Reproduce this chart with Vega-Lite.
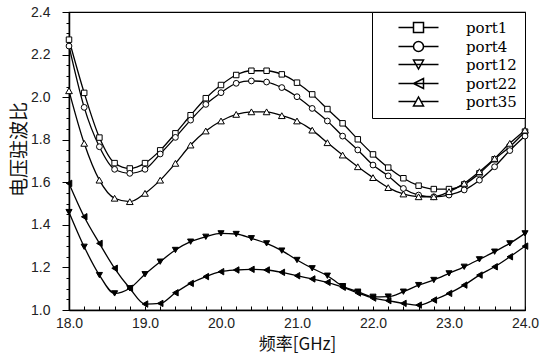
{
  "$schema": "https://vega.github.io/schema/vega-lite/v6.json",
  "width": 456,
  "height": 298,
  "autosize": {"type": "none"},
  "padding": {"left": 69, "top": 12, "right": 29, "bottom": 52},
  "background": "white",
  "config": {
    "view": {"stroke": "black", "strokeWidth": 1.2},
    "axis": {
      "grid": false,
      "domainColor": "black",
      "domainWidth": 1.5,
      "tickColor": "black",
      "tickWidth": 1,
      "labelFont": "Liberation Sans",
      "labelFontSize": 14,
      "labelColor": "#222",
      "labelOverlap": false,
      "labelFlush": false,
      "titleFont": "Noto Sans CJK SC",
      "titleFontSize": 17,
      "titleFontWeight": "normal",
      "titleColor": "#111"
    }
  },
  "data": {"values": [
    {"p":"port1","f":18.0,"v":2.27},{"p":"port1","f":18.2,"v":2.02},{"p":"port1","f":18.4,"v":1.81},{"p":"port1","f":18.6,"v":1.69},{"p":"port1","f":18.8,"v":1.665},{"p":"port1","f":19.0,"v":1.69},{"p":"port1","f":19.2,"v":1.75},{"p":"port1","f":19.4,"v":1.83},{"p":"port1","f":19.6,"v":1.915},{"p":"port1","f":19.8,"v":1.995},{"p":"port1","f":20.0,"v":2.057},{"p":"port1","f":20.2,"v":2.104},{"p":"port1","f":20.4,"v":2.124},{"p":"port1","f":20.6,"v":2.124},{"p":"port1","f":20.8,"v":2.107},{"p":"port1","f":21.0,"v":2.068},{"p":"port1","f":21.2,"v":2.013},{"p":"port1","f":21.4,"v":1.944},{"p":"port1","f":21.6,"v":1.877},{"p":"port1","f":21.8,"v":1.802},{"p":"port1","f":22.0,"v":1.731},{"p":"port1","f":22.2,"v":1.669},{"p":"port1","f":22.4,"v":1.619},{"p":"port1","f":22.6,"v":1.584},{"p":"port1","f":22.8,"v":1.568},{"p":"port1","f":23.0,"v":1.568},{"p":"port1","f":23.2,"v":1.59},{"p":"port1","f":23.4,"v":1.642},{"p":"port1","f":23.6,"v":1.708},{"p":"port1","f":23.8,"v":1.767},{"p":"port1","f":24.0,"v":1.838},
    {"p":"port4","f":18.0,"v":2.24},{"p":"port4","f":18.2,"v":1.952},{"p":"port4","f":18.4,"v":1.767},{"p":"port4","f":18.6,"v":1.661},{"p":"port4","f":18.8,"v":1.642},{"p":"port4","f":19.0,"v":1.661},{"p":"port4","f":19.2,"v":1.733},{"p":"port4","f":19.4,"v":1.811},{"p":"port4","f":19.6,"v":1.892},{"p":"port4","f":19.8,"v":1.966},{"p":"port4","f":20.0,"v":2.021},{"p":"port4","f":20.2,"v":2.065},{"p":"port4","f":20.4,"v":2.076},{"p":"port4","f":20.6,"v":2.071},{"p":"port4","f":20.8,"v":2.045},{"p":"port4","f":21.0,"v":2.002},{"p":"port4","f":21.2,"v":1.947},{"p":"port4","f":21.4,"v":1.888},{"p":"port4","f":21.6,"v":1.817},{"p":"port4","f":21.8,"v":1.752},{"p":"port4","f":22.0,"v":1.681},{"p":"port4","f":22.2,"v":1.63},{"p":"port4","f":22.4,"v":1.571},{"p":"port4","f":22.6,"v":1.54},{"p":"port4","f":22.8,"v":1.532},{"p":"port4","f":23.0,"v":1.54},{"p":"port4","f":23.2,"v":1.564},{"p":"port4","f":23.4,"v":1.61},{"p":"port4","f":23.6,"v":1.673},{"p":"port4","f":23.8,"v":1.749},{"p":"port4","f":24.0,"v":1.817},
    {"p":"port12","f":18.0,"v":1.46},{"p":"port12","f":18.2,"v":1.297},{"p":"port12","f":18.4,"v":1.164},{"p":"port12","f":18.6,"v":1.078},{"p":"port12","f":18.8,"v":1.102},{"p":"port12","f":19.0,"v":1.168},{"p":"port12","f":19.2,"v":1.227},{"p":"port12","f":19.4,"v":1.282},{"p":"port12","f":19.6,"v":1.321},{"p":"port12","f":19.8,"v":1.344},{"p":"port12","f":20.0,"v":1.36},{"p":"port12","f":20.2,"v":1.357},{"p":"port12","f":20.4,"v":1.337},{"p":"port12","f":20.6,"v":1.313},{"p":"port12","f":20.8,"v":1.279},{"p":"port12","f":21.0,"v":1.235},{"p":"port12","f":21.2,"v":1.196},{"p":"port12","f":21.4,"v":1.161},{"p":"port12","f":21.6,"v":1.112},{"p":"port12","f":21.8,"v":1.086},{"p":"port12","f":22.0,"v":1.062},{"p":"port12","f":22.2,"v":1.063},{"p":"port12","f":22.4,"v":1.086},{"p":"port12","f":22.6,"v":1.117},{"p":"port12","f":22.8,"v":1.141},{"p":"port12","f":23.0,"v":1.172},{"p":"port12","f":23.2,"v":1.203},{"p":"port12","f":23.4,"v":1.238},{"p":"port12","f":23.6,"v":1.274},{"p":"port12","f":23.8,"v":1.313},{"p":"port12","f":24.0,"v":1.36},
    {"p":"port22","f":18.0,"v":1.595},{"p":"port22","f":18.2,"v":1.438},{"p":"port22","f":18.4,"v":1.313},{"p":"port22","f":18.6,"v":1.196},{"p":"port22","f":18.8,"v":1.102},{"p":"port22","f":19.0,"v":1.028},{"p":"port22","f":19.2,"v":1.031},{"p":"port22","f":19.4,"v":1.081},{"p":"port22","f":19.6,"v":1.125},{"p":"port22","f":19.8,"v":1.157},{"p":"port22","f":20.0,"v":1.18},{"p":"port22","f":20.2,"v":1.188},{"p":"port22","f":20.4,"v":1.191},{"p":"port22","f":20.6,"v":1.188},{"p":"port22","f":20.8,"v":1.177},{"p":"port22","f":21.0,"v":1.161},{"p":"port22","f":21.2,"v":1.146},{"p":"port22","f":21.4,"v":1.13},{"p":"port22","f":21.6,"v":1.107},{"p":"port22","f":21.8,"v":1.08},{"p":"port22","f":22.0,"v":1.056},{"p":"port22","f":22.2,"v":1.044},{"p":"port22","f":22.4,"v":1.031},{"p":"port22","f":22.6,"v":1.023},{"p":"port22","f":22.8,"v":1.047},{"p":"port22","f":23.0,"v":1.078},{"p":"port22","f":23.2,"v":1.117},{"p":"port22","f":23.4,"v":1.164},{"p":"port22","f":23.6,"v":1.203},{"p":"port22","f":23.8,"v":1.25},{"p":"port22","f":24.0,"v":1.3},
    {"p":"port35","f":18.0,"v":2.03},{"p":"port35","f":18.2,"v":1.783},{"p":"port35","f":18.4,"v":1.61},{"p":"port35","f":18.6,"v":1.525},{"p":"port35","f":18.8,"v":1.509},{"p":"port35","f":19.0,"v":1.548},{"p":"port35","f":19.2,"v":1.61},{"p":"port35","f":19.4,"v":1.689},{"p":"port35","f":19.6,"v":1.775},{"p":"port35","f":19.8,"v":1.841},{"p":"port35","f":20.0,"v":1.888},{"p":"port35","f":20.2,"v":1.919},{"p":"port35","f":20.4,"v":1.931},{"p":"port35","f":20.6,"v":1.931},{"p":"port35","f":20.8,"v":1.913},{"p":"port35","f":21.0,"v":1.888},{"p":"port35","f":21.2,"v":1.845},{"p":"port35","f":21.4,"v":1.786},{"p":"port35","f":21.6,"v":1.728},{"p":"port35","f":21.8,"v":1.673},{"p":"port35","f":22.0,"v":1.622},{"p":"port35","f":22.2,"v":1.575},{"p":"port35","f":22.4,"v":1.545},{"p":"port35","f":22.6,"v":1.532},{"p":"port35","f":22.8,"v":1.532},{"p":"port35","f":23.0,"v":1.556},{"p":"port35","f":23.2,"v":1.595},{"p":"port35","f":23.4,"v":1.65},{"p":"port35","f":23.6,"v":1.712},{"p":"port35","f":23.8,"v":1.783},{"p":"port35","f":24.0,"v":1.845}
  ]},
  "encoding": {
    "x": {
      "field": "f", "type": "quantitative",
      "scale": {"domain": [18, 24], "nice": false, "zero": false},
      "axis": {
        "title": "频率[GHz]",
        "values": [18,18.2,18.4,18.6,18.8,19,19.2,19.4,19.6,19.8,20,20.2,20.4,20.6,20.8,21,21.2,21.4,21.6,21.8,22,22.2,22.4,22.6,22.8,23,23.2,23.4,23.6,23.8,24],
        "labelExpr": "abs(datum.value - round(datum.value)) < 0.01 ? format(datum.value, '.1f') : ''",
        "tickSize": -4,
        "labelPadding": 10,
        "titlePadding": 6
      }
    },
    "y": {
      "field": "v", "type": "quantitative",
      "scale": {"domain": [1.0, 2.4], "nice": false, "zero": false},
      "axis": {
        "title": "电压驻波比",
        "titleFontSize": 19,
        "titleY": 137,
        "values": [1,1.05,1.1,1.15,1.2,1.25,1.3,1.35,1.4,1.45,1.5,1.55,1.6,1.65,1.7,1.75,1.8,1.85,1.9,1.95,2,2.05,2.1,2.15,2.2,2.25,2.3,2.35,2.4],
        "labelExpr": "abs(datum.value * 5 - round(datum.value * 5)) < 0.01 ? format(datum.value, '.1f') : ''",
        "tickSize": {"condition": {"test": "abs(datum.value * 5 - round(datum.value * 5)) < 0.01", "value": 7}, "value": 3},
        "labelPadding": 12,
        "titlePadding": 1
      }
    }
  },
  "layer": [
    {
      "mark": {"type": "line", "interpolate": "monotone", "color": "black", "strokeWidth": 1.3},
      "encoding": {"detail": {"field": "p"}}
    },
    {
      "mark": {"type": "point", "filled": true, "stroke": "black", "strokeWidth": 1, "opacity": 1},
      "encoding": {
        "shape": {"field": "p", "scale": {"domain": ["port1","port4","port12","port22","port35"], "range": ["square","circle","triangle-down","triangle-left","triangle-up"]}, "legend": null},
        "fill": {"field": "p", "scale": {"domain": ["port1","port4","port12","port22","port35"], "range": ["white","white","black","black","white"]}, "legend": null},
        "size": {"field": "p", "scale": {"domain": ["port1","port4","port12","port22","port35"], "range": [30,45,75,75,55]}, "legend": null}
      }
    },
    {
      "mark": {"type": "point", "opacity": 0},
      "encoding": {
        "shape": {
          "field": "p",
          "scale": {"domain": ["port1","port4","port12","port22","port35"], "range": [
            "M-4,0H-1M1,0H4M-1,-1H1V1H-1Z",
            "M-4,0H-1M1,0H4M-1,0A1,1 0 1,0 1,0A1,1 0 1,0 -1,0Z",
            "M-4,0H4M-1,-0.9L1,-0.9L0,0.9Z",
            "M-4,0H4M1,-1L1,1L-1,0Z",
            "M-4,0H-0.5M0.5,0H4M-1,0.9L1,0.9L0,-0.9Z"
          ]},
          "legend": {
            "title": null,
            "orient": "top-right",
            "offset": 0,
            "strokeColor": "black",
            "fillColor": "white",
            "padding": 8,
            "labelFont": "DejaVu Serif",
            "labelFontSize": 15,
            "labelColor": "black",
            "labelExpr": "datum.label + '\u00a0\u00a0'",
            "symbolSize": 100,
            "symbolStrokeWidth": 1.5,
            "symbolStrokeColor": "black",
            "symbolOffset": 31,
            "labelOffset": 40,
            "rowPadding": 2,
            "encode": {
              "legend": {"strokeWidth": {"value": 2}},
              "symbols": {
                "fill": {"condition": {"test": "datum.value == 'port12' || datum.value == 'port22'", "value": "black"}, "value": "white"},
                "stroke": {"value": "black"},
                "opacity": {"value": 1}
              }
            }
          }
        }
      }
    }
  ],
  "resolve": {"scale": {"shape": "independent"}, "legend": {"shape": "independent"}}
}
